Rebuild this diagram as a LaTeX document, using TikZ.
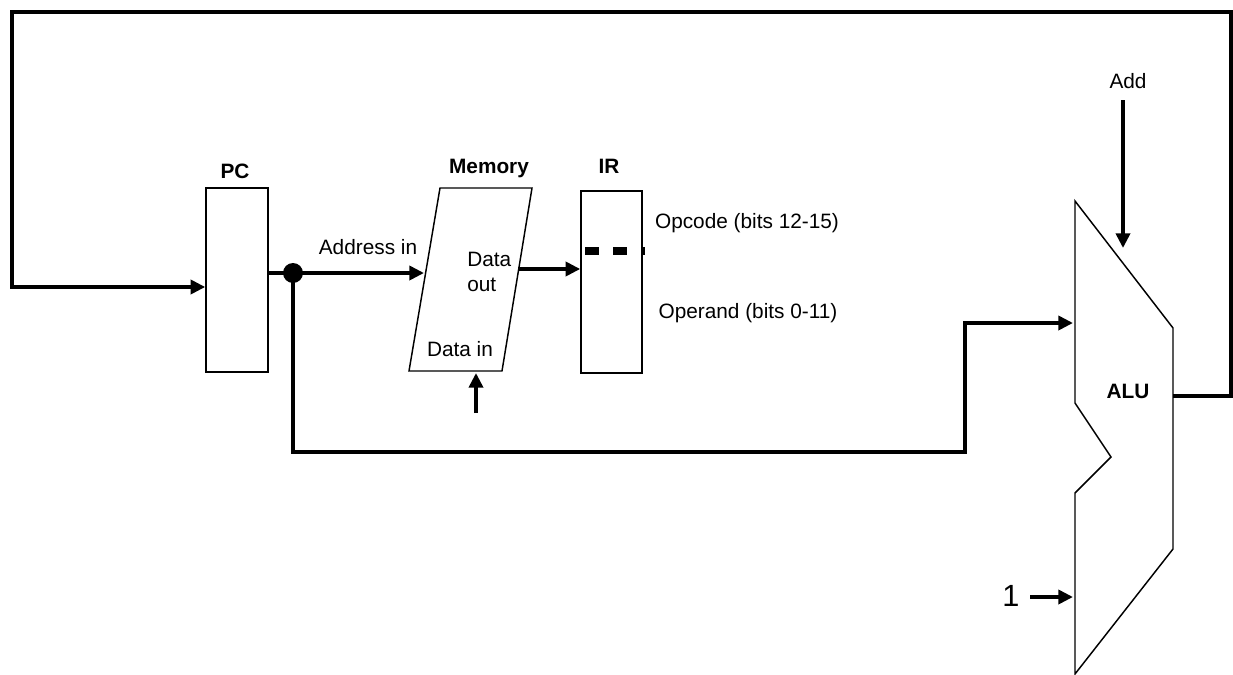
\documentclass[tikz,border=0pt]{standalone}
\usepackage{fontspec}
\setmainfont{Liberation Sans}
\usetikzlibrary{arrows.meta}
\begin{document}
\begin{tikzpicture}[x=0.75pt,y=-0.75pt,
  wire/.style={line width=3.3pt, line join=miter, -{Triangle[length=11pt,width=10.5pt]}},
  plain/.style={line width=3.3pt, line join=miter},
  box/.style={draw, line width=1.1pt, inner sep=0pt},
  outline/.style={line width=1.1pt, line join=miter},
  lbl/.style={font=\fontsize{15.6}{18.5}\selectfont, inner sep=0pt, align=center},
  blbl/.style={font=\fontsize{15.6}{18.5}\selectfont\bfseries, inner sep=0pt}]
\useasboundingbox (0,0) rectangle (1233,675);

% blocks
\node[box, minimum width=46.5pt, minimum height=138pt] (pc) at (237,280) {};
\node[box, minimum width=45.75pt, minimum height=136.5pt] (ir) at (611.5,282) {};
\draw[outline] (440,188) coordinate (memTL) -- (532,188) coordinate (memTR)
  -- (502,371) coordinate (memBR) -- (409,371) coordinate (memBL) -- cycle;
\draw[outline] (1075,201) coordinate (aluTL) -- (1173,328) coordinate (aluRT)
  -- (1173,549) coordinate (aluRB) -- (1075,674) coordinate (aluBL)
  -- (1075,493) -- (1111,457) -- (1075,403) -- cycle;

% labels
\node[blbl] (pclbl) at (235,171) {PC};
\node[blbl] (memlbl) at (489,168) {Memory};
\node[blbl] (irlbl) at (609,166) {IR};
\node[blbl] (alulbl) at (1128,391) {ALU};
\node[lbl] (addr) at (368,247) {Address in};
\node[lbl, align=left, anchor=west] (dout) at (467,272) {Data\\out};
\node[lbl] (din) at (460,349) {Data in};
\node[lbl] (opc) at (747,223) {Opcode (bits 12-15)};
\node[lbl] (opd) at (748,313) {Operand (bits 0-11)};
\node[lbl] (addlbl) at (1128,81) {Add};
\node[inner sep=0pt, font=\fontsize{23}{25}\selectfont] (one) at (1011,596) {1};

% coordinates for connectors
\coordinate (tl) at (12,12);
\coordinate (tr) at (1231,12);
\coordinate (rt) at (1231,396);
\coordinate (aluout) at (1173,396);
\coordinate (lb) at (12,287);
\coordinate (memin) at (424,273);
\coordinate (bl) at (293,452);
\coordinate (br) at (965,452);
\coordinate (bu) at (965,323);
\coordinate (aluin) at (1073,323);
\coordinate (doutS) at (518,269);
\coordinate (dinS) at (476,413);
\coordinate (dinE) at (476,373);
\coordinate (addS) at (1123,100);
\coordinate (addE) at (1123,248);
\coordinate (oneS) at (1030,597);
\coordinate (oneE) at (1073,597);

% junction dot
\node[circle, fill, minimum size=15pt, inner sep=0pt] (dot) at (293,273) {};

% connectors
\draw[wire] (aluout) -- (rt) -- (tr) -- (tl) -- (lb) -- (pc.west |- lb);
\draw[plain] (pc.east |- dot) -- (dot.center);
\draw[wire] (dot.center) -- (memin);
\draw[wire] (dot.center) -- (bl) -- (br) -- (bu) -- (aluin);
\draw[wire] (doutS) -- (doutS -| ir.west);
\draw[wire] (dinS) -- (dinE);
\draw[wire] (addS) -- (addE);
\draw[wire] (oneS) -- (oneE);

% opcode / operand divider
\draw[line width=6.5pt, dash pattern=on 10.5pt off 10.5pt] (585,251) -- (645,251);
\end{tikzpicture}
\end{document}
